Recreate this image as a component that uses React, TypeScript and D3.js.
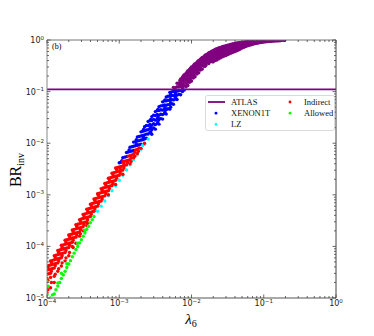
import React, { useRef, useEffect } from 'react';
import * as d3 from 'd3';

// decades shown on the axes
const xTickExps = [-4, -3, -2, -1, 0];
const yTickExps = [-5, -4, -3, -2, -1, 0];
const atlasLimit = 0.11;

// each entry: [lambda_6, [BR_inv values read at that lambda]]
const purpleCols: [number, number[]][] = [
  [5.62e-3, [0.121]],
  [5.96e-3, [0.119]],
  [6.31e-3, [0.124, 0.145]],
  [6.68e-3, [0.124, 0.145]],
  [6.9e-3, [0.135, 0.165]],
  [7.08e-3, [0.126, 0.151, 0.176]],
  [7.5e-3, [0.119, 0.14, 0.163, 0.19]],
  [7.7e-3, [0.135, 0.17, 0.2]],
  [7.94e-3, [0.129, 0.154, 0.183, 0.212]],
  [8.41e-3, [0.124, 0.145, 0.17, 0.197, 0.228]],
  [8.7e-3, [0.14, 0.17, 0.205, 0.24]],
  [8.91e-3, [0.131, 0.157, 0.186, 0.22, 0.253]],
  [9.44e-3, [0.151, 0.176, 0.204, 0.236, 0.271]],
  [9.7e-3, [0.165, 0.2, 0.245, 0.285]],
  [1.0e-2, [0.16, 0.19, 0.224, 0.262, 0.299]],
  [1.06e-2, [0.183, 0.212, 0.244, 0.28, 0.319]],
  [1.09e-2, [0.2, 0.24, 0.295, 0.335]],
  [1.12e-2, [0.194, 0.228, 0.266, 0.309, 0.349]],
  [1.19e-2, [0.22, 0.253, 0.29, 0.329, 0.371]],
  [1.22e-2, [0.235, 0.28, 0.34, 0.385]],
  [1.26e-2, [0.232, 0.271, 0.314, 0.36, 0.403]],
  [1.33e-2, [0.262, 0.299, 0.339, 0.381, 0.426]],
  [1.37e-2, [0.27, 0.33, 0.39, 0.44]],
  [1.41e-2, [0.275, 0.319, 0.365, 0.415, 0.46]],
  [1.5e-2, [0.309, 0.349, 0.392, 0.437, 0.483]],
  [1.54e-2, [0.31, 0.37, 0.44, 0.5]],
  [1.58e-2, [0.324, 0.371, 0.42, 0.471, 0.517]],
  [1.68e-2, [0.36, 0.403, 0.448, 0.494, 0.54]],
  [1.73e-2, [0.35, 0.42, 0.49, 0.56]],
  [1.78e-2, [0.376, 0.426, 0.477, 0.529, 0.574]],
  [1.88e-2, [0.39, 0.44, 0.49, 0.55, 0.6]],
  [1.94e-2, [0.38, 0.46, 0.54, 0.61]],
  [2.0e-2, [0.38, 0.43, 0.49, 0.56, 0.63]],
  [2.11e-2, [0.4, 0.46, 0.53, 0.6, 0.655]],
  [2.18e-2, [0.42, 0.5, 0.58, 0.66]],
  [2.24e-2, [0.41, 0.45, 0.52, 0.6, 0.68]],
  [2.37e-2, [0.43, 0.49, 0.56, 0.63, 0.7]],
  [2.45e-2, [0.46, 0.54, 0.62, 0.7]],
  [2.51e-2, [0.45, 0.5, 0.57, 0.64, 0.72]],
  [2.66e-2, [0.47, 0.52, 0.59, 0.67, 0.74]],
  [2.75e-2, [0.49, 0.57, 0.65, 0.74]],
  [2.82e-2, [0.49, 0.54, 0.6, 0.68, 0.76]],
  [2.99e-2, [0.5, 0.56, 0.63, 0.7, 0.775]],
  [3.1e-2, [0.53, 0.61, 0.69, 0.77]],
  [3.16e-2, [0.52, 0.58, 0.64, 0.72, 0.79]],
  [3.35e-2, [0.54, 0.6, 0.67, 0.74, 0.81]],
  [3.5e-2, [0.57, 0.65, 0.72, 0.8]],
  [3.55e-2, [0.56, 0.61, 0.68, 0.75, 0.83]],
  [3.76e-2, [0.58, 0.64, 0.7, 0.77, 0.845]],
  [3.98e-2, [0.6, 0.65, 0.71, 0.79, 0.86]],
  [4.0e-2, [0.62, 0.69, 0.76, 0.84]],
  [4.22e-2, [0.62, 0.68, 0.74, 0.81, 0.875]],
  [4.47e-2, [0.64, 0.69, 0.75, 0.82, 0.89]],
  [4.6e-2, [0.67, 0.74, 0.8, 0.87]],
  [4.73e-2, [0.67, 0.72, 0.78, 0.84, 0.9]],
  [5.01e-2, [0.7, 0.74, 0.79, 0.85, 0.91]],
  [5.3e-2, [0.74, 0.8, 0.86, 0.9]],
  [5.31e-2, [0.72, 0.77, 0.83, 0.875, 0.92]],
  [5.62e-2, [0.75, 0.81, 0.87, 0.93]],
  [5.96e-2, [0.77, 0.83, 0.885, 0.937]],
  [6.31e-2, [0.79, 0.84, 0.89, 0.945]],
  [6.68e-2, [0.81, 0.86, 0.905, 0.95]],
  [7.08e-2, [0.83, 0.87, 0.91, 0.955]],
  [7.5e-2, [0.85, 0.89, 0.925, 0.96]],
  [7.94e-2, [0.86, 0.9, 0.93, 0.965]],
  [8.41e-2, [0.875, 0.91, 0.94, 0.968]],
  [8.91e-2, [0.89, 0.915, 0.945, 0.972]],
  [9.44e-2, [0.9, 0.925, 0.95, 0.975]],
  [0.1, [0.91, 0.935, 0.955, 0.978]],
  [0.106, [0.92, 0.94, 0.96, 0.98]],
  [0.112, [0.93, 0.96, 0.982]],
  [0.119, [0.94, 0.965, 0.984]],
  [0.126, [0.945, 0.97, 0.986]],
  [0.133, [0.95, 0.972, 0.988]],
  [0.141, [0.955, 0.975, 0.989]],
  [0.15, [0.96, 0.978, 0.99]],
  [0.158, [0.965, 0.98, 0.991]],
  [0.168, [0.97, 0.983, 0.992]],
  [0.178, [0.985, 0.993]],
  [0.188, [0.988]],
  [0.195, [0.99]],
];

const blueCols: [number, number[]][] = [
  [1.0e-3, [4.17e-3]],
  [1.06e-3, [4.27e-3]],
  [1.09e-3, [4.6e-3]],
  [1.12e-3, [5.25e-3]],
  [1.19e-3, [5.37e-3]],
  [1.26e-3, [6.61e-3, 5.5e-3]],
  [1.33e-3, [6.76e-3]],
  [1.37e-3, [7.4e-3]],
  [1.41e-3, [8.32e-3, 6.92e-3]],
  [1.5e-3, [8.51e-3, 7.08e-3]],
  [1.58e-3, [1.05e-2, 8.71e-3, 7.24e-3]],
  [1.68e-3, [1.07e-2, 8.91e-3]],
  [1.72e-3, [1.17e-2, 9.6e-3]],
  [1.78e-3, [1.32e-2, 1.1e-2, 9.12e-3]],
  [1.88e-3, [1.35e-2, 1.12e-2, 9.33e-3]],
  [2.0e-3, [1.66e-2, 1.38e-2, 1.15e-2, 9.55e-3]],
  [2.11e-3, [1.7e-2, 1.41e-2, 1.17e-2]],
  [2.17e-3, [1.85e-2, 1.3e-2]],
  [2.24e-3, [2.09e-2, 1.74e-2, 1.45e-2, 1.2e-2]],
  [2.37e-3, [2.2e-2, 1.8e-2, 1.5e-2, 1.25e-2]],
  [2.51e-3, [2.63e-2, 2.19e-2, 1.82e-2, 1.51e-2]],
  [2.66e-3, [2.75e-2, 2.3e-2, 1.9e-2, 1.6e-2]],
  [2.73e-3, [2.9e-2, 2.05e-2, 1.65e-2]],
  [2.82e-3, [3.28e-2, 2.74e-2, 2.24e-2, 1.83e-2, 1.49e-2]],
  [2.99e-3, [3.5e-2, 2.9e-2, 2.4e-2, 1.98e-2]],
  [3.16e-3, [4.1e-2, 3.43e-2, 2.8e-2, 2.29e-2, 1.87e-2]],
  [3.35e-3, [4.3e-2, 3.6e-2, 2.95e-2, 2.42e-2]],
  [3.43e-3, [4.5e-2, 3.2e-2, 2.6e-2]],
  [3.55e-3, [5.1e-2, 4.28e-2, 3.5e-2, 2.87e-2, 2.34e-2]],
  [3.76e-3, [5.3e-2, 4.45e-2, 3.65e-2, 3.0e-2]],
  [3.98e-3, [6.33e-2, 5.32e-2, 4.37e-2, 3.58e-2, 2.93e-2]],
  [4.22e-3, [6.6e-2, 5.5e-2, 4.55e-2, 3.75e-2]],
  [4.3e-3, [6.9e-2, 4.9e-2, 4.0e-2]],
  [4.47e-3, [7.84e-2, 6.61e-2, 5.44e-2, 4.47e-2, 3.66e-2]],
  [4.73e-3, [8.1e-2, 6.8e-2, 5.6e-2, 4.65e-2]],
  [5.01e-3, [9.67e-2, 8.18e-2, 6.75e-2, 5.56e-2, 4.57e-2]],
  [5.15e-3, [8.9e-2, 7.3e-2, 6.1e-2, 5.0e-2]],
  [5.31e-3, [9.9e-2, 8.4e-2, 7.0e-2, 5.8e-2]],
  [5.62e-3, [0.1007, 8.36e-2, 6.9e-2, 5.69e-2]],
  [5.96e-3, [0.102, 8.6e-2, 7.2e-2]],
  [6.0e-3, [9.4e-2, 7.8e-2]],
  [6.31e-3, [0.103, 8.53e-2, 7.05e-2]],
  [6.68e-3, [0.105, 8.9e-2]],
  [7.08e-3, [0.105, 8.7e-2]],
  [7.5e-3, [0.1007]],
  [7.94e-3, [0.107]],
];

const cyanCols: [number, number[]][] = [
  [5.01e-4, [4.79e-4]],
  [5.62e-4, [6.03e-4]],
  [6.31e-4, [7.59e-4]],
  [7.08e-4, [9.6e-4]],
  [7.94e-4, [1.2e-3]],
  [8.91e-4, [1.5e-3]],
  [1.0e-3, [1.91e-3]],
  [1.12e-3, [2.4e-3]],
  [1.26e-3, [3.02e-3]],
  [1.41e-3, [3.8e-3]],
  [1.5e-3, [5.0e-3]],
  [1.58e-3, [4.79e-3]],
  [1.78e-3, [6.0e-3]],
  [2.0e-3, [7.6e-3]],
  [2.11e-3, [9.0e-3]],
  [2.24e-3, [9.55e-3]],
  [2.51e-3, [1.2e-2]],
];

const redCols: [number, number[]][] = [
  [1.0e-4, [4.17e-5, 3.47e-5, 2.88e-5, 2.4e-5, 1.66e-5, 1.26e-5]],
  [1.03e-4, [3.9e-5, 2.2e-5, 1.45e-5]],
  [1.06e-4, [4.27e-5, 3.55e-5, 2.95e-5]],
  [1.12e-4, [5.25e-5, 4.37e-5, 3.63e-5, 3.02e-5, 2.51e-5, 1.58e-5]],
  [1.15e-4, [4.9e-5, 3.3e-5, 2.0e-5]],
  [1.19e-4, [5.37e-5, 4.47e-5, 3.72e-5]],
  [1.26e-4, [6.61e-5, 5.5e-5, 4.57e-5, 3.8e-5, 2.63e-5, 2.0e-5]],
  [1.3e-4, [6.2e-5, 4.2e-5, 2.9e-5]],
  [1.33e-4, [6.76e-5, 5.62e-5, 4.68e-5]],
  [1.41e-4, [8.32e-5, 6.92e-5, 5.75e-5, 4.79e-5, 3.31e-5]],
  [1.45e-4, [7.7e-5, 5.2e-5, 3.7e-5]],
  [1.5e-4, [8.51e-5, 7.08e-5, 5.89e-5]],
  [1.58e-4, [1.05e-4, 8.71e-5, 7.24e-5, 6.03e-5, 4.17e-5]],
  [1.62e-4, [9.6e-5, 6.6e-5, 4.8e-5]],
  [1.68e-4, [1.07e-4, 8.91e-5, 7.41e-5]],
  [1.78e-4, [1.32e-4, 1.1e-4, 9.12e-5, 7.59e-5, 5.25e-5]],
  [1.83e-4, [1.22e-4, 8.3e-5, 6.0e-5]],
  [1.88e-4, [1.35e-4, 1.12e-4, 9.33e-5]],
  [2.0e-4, [1.66e-4, 1.38e-4, 1.15e-4, 9.55e-5, 6.61e-5]],
  [2.05e-4, [1.55e-4, 1.05e-4, 7.6e-5]],
  [2.11e-4, [1.7e-4, 1.41e-4, 1.17e-4]],
  [2.24e-4, [2.09e-4, 1.74e-4, 1.45e-4, 1.2e-4, 1.0e-4]],
  [2.3e-4, [1.95e-4, 1.32e-4, 9.5e-5]],
  [2.37e-4, [2.14e-4, 1.78e-4, 1.48e-4]],
  [2.51e-4, [2.63e-4, 2.19e-4, 1.82e-4, 1.51e-4, 1.15e-4]],
  [2.58e-4, [2.45e-4, 1.66e-4]],
  [2.66e-4, [2.69e-4, 2.24e-4, 1.86e-4]],
  [2.82e-4, [3.31e-4, 2.75e-4, 2.29e-4, 1.91e-4, 1.58e-4]],
  [2.9e-4, [3.1e-4, 2.1e-4, 1.75e-4]],
  [2.99e-4, [3.39e-4, 2.82e-4, 2.34e-4]],
  [3.16e-4, [4.17e-4, 3.47e-4, 2.88e-4, 2.4e-4, 2.0e-4]],
  [3.25e-4, [3.9e-4, 2.65e-4]],
  [3.35e-4, [4.27e-4, 3.55e-4, 2.95e-4]],
  [3.55e-4, [5.25e-4, 4.37e-4, 3.63e-4, 3.02e-4, 2.51e-4]],
  [3.65e-4, [4.9e-4, 3.3e-4, 2.8e-4]],
  [3.76e-4, [5.37e-4, 4.47e-4, 3.72e-4]],
  [3.98e-4, [6.61e-4, 5.5e-4, 4.57e-4, 3.8e-4]],
  [4.1e-4, [6.2e-4, 4.2e-4]],
  [4.22e-4, [6.76e-4, 5.62e-4, 4.68e-4]],
  [4.47e-4, [8.32e-4, 6.92e-4, 5.75e-4, 4.79e-4]],
  [4.6e-4, [7.8e-4, 5.3e-4]],
  [4.73e-4, [8.51e-4, 7.08e-4, 5.89e-4]],
  [5.01e-4, [1.05e-3, 8.71e-4, 7.24e-4, 6.03e-4]],
  [5.15e-4, [9.8e-4, 6.6e-4]],
  [5.31e-4, [1.07e-3, 8.91e-4, 7.41e-4]],
  [5.62e-4, [1.32e-3, 1.1e-3, 9.12e-4, 7.59e-4]],
  [5.8e-4, [1.23e-3, 8.3e-4]],
  [5.96e-4, [1.35e-3, 1.12e-3, 9.33e-4]],
  [6.31e-4, [1.66e-3, 1.38e-3, 1.15e-3, 9.55e-4]],
  [6.5e-4, [1.55e-3, 1.05e-3]],
  [6.68e-4, [1.7e-3, 1.41e-3, 1.17e-3]],
  [7.08e-4, [2.09e-3, 1.74e-3, 1.45e-3, 1.2e-3, 1.0e-3]],
  [7.3e-4, [1.95e-3, 1.32e-3]],
  [7.5e-4, [2.14e-3, 1.78e-3, 1.48e-3]],
  [7.94e-4, [2.63e-3, 2.19e-3, 1.82e-3, 1.51e-3]],
  [8.2e-4, [2.45e-3, 1.66e-3]],
  [8.41e-4, [2.69e-3, 2.24e-3, 1.86e-3]],
  [8.91e-4, [3.31e-3, 2.75e-3, 2.29e-3, 1.91e-3, 1.58e-3]],
  [9.2e-4, [3.1e-3, 2.1e-3]],
  [9.44e-4, [3.39e-3, 2.82e-3, 2.34e-3]],
  [1.0e-3, [3.47e-3, 2.88e-3, 2.4e-3]],
  [1.03e-3, [3.2e-3, 2.65e-3]],
  [1.06e-3, [3.55e-3, 2.95e-3]],
  [1.12e-3, [4.37e-3, 3.63e-3, 3.02e-3, 2.51e-3]],
  [1.16e-3, [4.0e-3, 3.3e-3]],
  [1.19e-3, [4.47e-3, 3.72e-3]],
  [1.26e-3, [4.57e-3, 3.8e-3]],
  [1.3e-3, [4.2e-3]],
  [1.33e-3, [5.62e-3, 4.68e-3]],
  [1.41e-3, [5.75e-3, 4.79e-3, 3.98e-3]],
  [1.46e-3, [5.3e-3, 4.4e-3]],
  [1.5e-3, [5.89e-3]],
  [1.58e-3, [6.03e-3, 5.2e-3]],
  [1.64e-3, [6.6e-3, 5.6e-3]],
  [1.68e-3, [7.41e-3]],
  [1.78e-3, [7.59e-3, 6.31e-3]],
  [1.84e-3, [7.0e-3]],
  [1.88e-3, [8.1e-3]],
  [2.0e-3, [7.94e-3]],
  [2.24e-3, [1.0e-2]],
];

const greenCols: [number, number[]][] = [
  [1.0e-4, [2.1e-5, 1.15e-5]],
  [1.04e-4, [1.7e-5]],
  [1.12e-4, [1.0e-5]],
  [1.19e-4, [1.15e-5]],
  [1.26e-4, [1.2e-5]],
  [1.33e-4, [1.45e-5]],
  [1.41e-4, [1.7e-5, 1.95e-5]],
  [1.5e-4, [2.0e-5]],
  [1.58e-4, [2.4e-5, 3.02e-5]],
  [1.68e-4, [2.8e-5]],
  [1.78e-4, [3.31e-5]],
  [1.88e-4, [3.9e-5, 4.6e-5]],
  [2.0e-4, [4.57e-5]],
  [2.11e-4, [5.3e-5]],
  [2.24e-4, [6.31e-5]],
  [2.37e-4, [7.4e-5]],
  [2.51e-4, [8.71e-5]],
  [2.66e-4, [1.0e-4, 1.15e-4]],
  [2.82e-4, [1.17e-4]],
  [2.99e-4, [1.35e-4]],
  [3.16e-4, [1.58e-4]],
  [3.35e-4, [1.82e-4, 2.05e-4]],
  [3.55e-4, [2.14e-4]],
  [3.76e-4, [2.45e-4]],
  [3.98e-4, [2.88e-4]],
  [4.22e-4, [3.3e-4]],
  [4.47e-4, [3.8e-4]],
];

const legendItems = [
  { label: 'ATLAS', color: 'purple', line: true },
  { label: 'XENON1T', color: 'blue', line: false },
  { label: 'LZ', color: 'cyan', line: false },
  { label: 'Indirect', color: 'red', line: false },
  { label: 'Allowed', color: 'lime', line: false },
];

const flatten = (cols: [number, number[]][]) =>
  cols.flatMap(([l, brs]) => brs.map(b => [l, b] as [number, number]));

const App = () => {
  const svgRef = useRef<SVGSVGElement>(null);

  useEffect(() => {
    const svg = d3.select(svgRef.current);
    svg.selectAll('*').remove();

    const left = 47, right = 336, top = 40, bottom = 298;
    const x = d3.scaleLog().domain([1e-4, 1]).range([left, right]);
    const y = d3.scaleLog().domain([1e-5, 1]).range([bottom, top]);

    svg.append('defs').append('clipPath').attr('id', 'plotclip')
      .append('rect').attr('x', left).attr('y', top)
      .attr('width', right - left).attr('height', bottom - top);

    const pts = svg.append('g').attr('clip-path', 'url(#plotclip)');
    const series: [[number, number][], string][] = [
      [flatten(purpleCols), 'purple'],
      [flatten(blueCols), 'blue'],
      [flatten(cyanCols), 'cyan'],
      [flatten(redCols), 'red'],
      [flatten(greenCols), 'lime'],
    ];
    series.forEach(([data, color]) => {
      pts.append('g').selectAll('circle')
        .data(data)
        .enter().append('circle')
        .attr('cx', d => x(d[0]))
        .attr('cy', d => y(d[1]))
        .attr('r', 1.7)
        .attr('fill', color);
    });

    // ATLAS limit
    svg.append('line')
      .attr('x1', left).attr('x2', right)
      .attr('y1', y(atlasLimit)).attr('y2', y(atlasLimit))
      .attr('stroke', 'purple').attr('stroke-width', 1.8);

    // frame
    svg.append('line').attr('x1', left).attr('x2', right).attr('y1', bottom).attr('y2', bottom)
      .attr('stroke', '#aaa').attr('stroke-width', 2);
    svg.append('line').attr('x1', left).attr('x2', left).attr('y1', top).attr('y2', bottom)
      .attr('stroke', '#888').attr('stroke-width', 1);
    svg.append('line').attr('x1', left).attr('x2', right).attr('y1', top).attr('y2', top)
      .attr('stroke', '#777').attr('stroke-width', 1);
    svg.append('line').attr('x1', right).attr('x2', right).attr('y1', top).attr('y2', bottom)
      .attr('stroke', '#444').attr('stroke-width', 1);

    // ticks, pointing inward on all four sides
    const tickG = svg.append('g').attr('stroke', '#444').attr('stroke-width', 0.8);
    const xt: [number, number][] = [];
    xTickExps.forEach(e => {
      xt.push([Math.pow(10, e), 3.5]);
      if (e < 0) d3.range(2, 10).forEach(m => xt.push([m * Math.pow(10, e), 2]));
    });
    xt.forEach(([v, len]) => {
      tickG.append('line').attr('x1', x(v)).attr('x2', x(v)).attr('y1', bottom).attr('y2', bottom - len);
      tickG.append('line').attr('x1', x(v)).attr('x2', x(v)).attr('y1', top).attr('y2', top + len);
    });
    const yt: [number, number][] = [];
    yTickExps.forEach(e => {
      yt.push([Math.pow(10, e), 3.5]);
      if (e < 0) d3.range(2, 10).forEach(m => yt.push([m * Math.pow(10, e), 2]));
    });
    yt.forEach(([v, len]) => {
      tickG.append('line').attr('y1', y(v)).attr('y2', y(v)).attr('x1', left).attr('x2', left + len);
      tickG.append('line').attr('y1', y(v)).attr('y2', y(v)).attr('x1', right).attr('x2', right - len);
    });

    const tickFont = '"DejaVu Sans", sans-serif';
    const expText = (e: number) => (e < 0 ? '\u2212' + Math.abs(e) : String(e));
    xTickExps.forEach(e => {
      const t = svg.append('text')
        .attr('x', x(Math.pow(10, e))).attr('y', 306)
        .attr('text-anchor', 'middle')
        .style('font-family', tickFont).style('font-size', '8px').attr('fill', '#222');
      t.append('tspan').text('10');
      t.append('tspan').attr('dy', -3.5).style('font-size', '5.5px').text(expText(e));
    });
    yTickExps.forEach(e => {
      const t = svg.append('text')
        .attr('x', 44).attr('y', y(Math.pow(10, e)) + 3)
        .attr('text-anchor', 'end')
        .style('font-family', tickFont).style('font-size', '8px').attr('fill', '#222');
      t.append('tspan').text('10');
      t.append('tspan').attr('dy', -3.5).style('font-size', '5.5px').text(expText(e));
    });

    const serif = '"Liberation Serif", "DejaVu Serif", serif';

    // panel tag
    svg.append('text').attr('x', 52).attr('y', 49)
      .style('font-family', serif).style('font-size', '8px').text('(b)');

    // axis titles
    const yl = svg.append('text')
      .attr('transform', 'translate(21,170) rotate(-90)')
      .attr('text-anchor', 'middle')
      .style('font-family', serif).style('font-size', '16px');
    yl.append('tspan').text('BR');
    yl.append('tspan').attr('dy', 3).style('font-size', '10px').text('inv');

    const xl = svg.append('text')
      .attr('x', 191).attr('y', 324)
      .attr('text-anchor', 'middle')
      .style('font-family', serif).style('font-size', '15px');
    xl.append('tspan').style('font-style', 'italic').text('\u03bb');
    xl.append('tspan').attr('dy', 3).style('font-size', '10px').text('6');

    // legend
    const lg = svg.append('g');
    lg.append('rect')
      .attr('x', 205.5).attr('y', 95.5).attr('width', 129).attr('height', 35)
      .attr('rx', 2).attr('fill', 'white').attr('fill-opacity', 0.85)
      .attr('stroke', '#d0d0d0').attr('stroke-width', 0.8);
    legendItems.forEach((item, i) => {
      const col = i < 3 ? 0 : 1;
      const row = i < 3 ? i : i - 3;
      const cx = col === 0 ? 216 : 290;
      const cy = 102 + row * 11.2;
      if (item.line) {
        lg.append('line').attr('x1', 208).attr('x2', 225).attr('y1', cy).attr('y2', cy)
          .attr('stroke', item.color).attr('stroke-width', 1.8);
      } else {
        lg.append('circle').attr('cx', cx).attr('cy', cy).attr('r', 1.4).attr('fill', item.color);
      }
      lg.append('text')
        .attr('x', col === 0 ? 231 : 304).attr('y', cy + 3)
        .style('font-family', serif).style('font-size', '8.5px').attr('fill', '#111')
        .text(item.label);
    });
  }, []);

  return (
    <svg ref={svgRef} width={374} height={336}
      style={{ position: 'absolute', left: 0, top: 0, background: 'white' }} />
  );
};

export default App;
